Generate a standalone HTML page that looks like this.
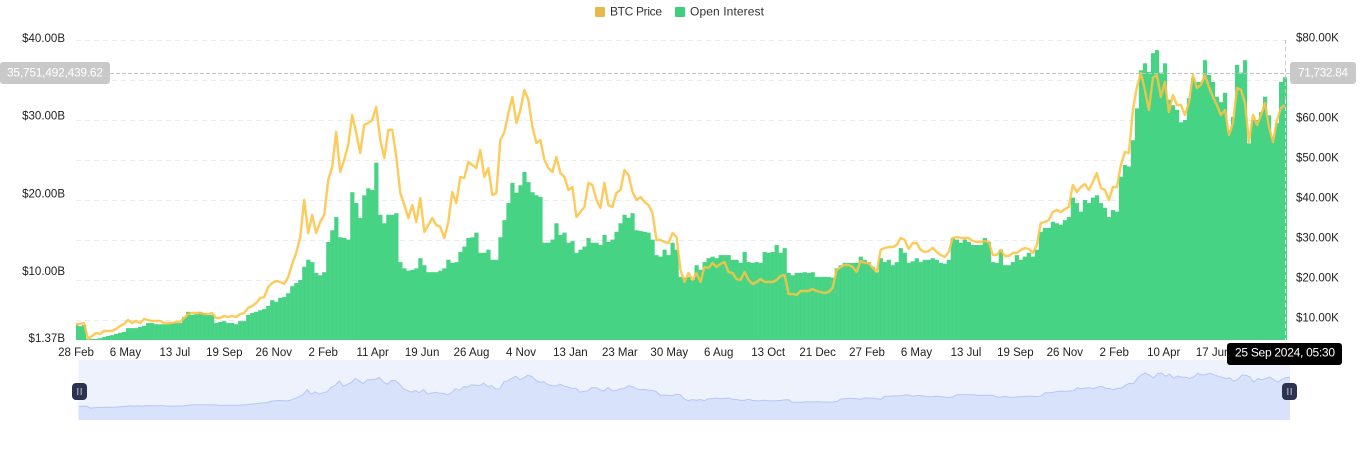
<!DOCTYPE html>
<html lang="en">
<head>
<meta charset="utf-8">
<title>BTC Price and Open Interest</title>
<style>
html,body{margin:0;padding:0;background:#fff;width:1360px;height:450px;overflow:hidden}
svg{display:block;font-family:"Liberation Sans",sans-serif}
</style>
</head>
<body>
<svg id="chart" width="1360" height="450" viewBox="0 0 1360 450" xmlns="http://www.w3.org/2000/svg">
  <defs>
    <clipPath id="plot-clip"><rect x="76" y="30" width="1211" height="310"/></clipPath>
  </defs>
  <g font-size="12" fill="#333" dominant-baseline="middle">
    <g>
      <rect x="595" y="7" width="10" height="10" rx="1" fill="#e8b84a"/>
      <text x="610" y="12.5" textLength="52">BTC Price</text>
    </g>
    <g>
      <rect x="675" y="7" width="10" height="10" rx="1" fill="#3fce7d"/>
      <text x="690" y="12.5" textLength="74">Open Interest</text>
    </g>
  </g>
  <g id="grid"></g>
  <g id="bars" clip-path="url(#plot-clip)"></g>
  <path id="price-line" fill="none" stroke="#fdc345" stroke-opacity="0.88" stroke-width="2.4" stroke-linejoin="round" clip-path="url(#plot-clip)"/>
  <g id="left-axis" font-size="11.5" fill="#222" text-anchor="end" dominant-baseline="middle"></g>
  <g id="right-axis" font-size="11.5" fill="#222" dominant-baseline="middle"></g>
  <g id="x-axis" font-size="11.5" fill="#222" text-anchor="middle" dominant-baseline="middle"></g>
  <g>
    <line x1="110" y1="73.5" x2="1290" y2="73.5" stroke="#c2c2c2" stroke-width="1" stroke-dasharray="4 2"/>
    <line x1="1285.5" y1="40" x2="1285.5" y2="100" stroke="#c8c8c8" stroke-width="1" stroke-dasharray="4 3"/>
    <line x1="1285.5" y1="100" x2="1285.5" y2="340" stroke="#e6f7ee" stroke-width="1" stroke-dasharray="4 3"/>
    <rect x="0" y="62" width="110" height="22" rx="3" fill="#c9c9c9"/>
    <text x="55" y="73.5" font-size="12" fill="#fff" text-anchor="middle" dominant-baseline="middle" textLength="96">35,751,492,439.62</text>
    <rect x="1290" y="62" width="66" height="22" rx="3" fill="#c9c9c9"/>
    <text x="1323" y="73.5" font-size="12" fill="#fff" text-anchor="middle" dominant-baseline="middle" textLength="50">71,732.84</text>
  </g>
  <g>
    <rect x="78.5" y="360" width="1211.5" height="60" fill="#eef2fd"/>
    <path id="mini-area" fill="#d9e2fb"/>
    <path id="mini-line" fill="none" stroke="#b4c7f7" stroke-width="1"/>
    <g>
      <rect x="72" y="383" width="15" height="17" rx="4" fill="#2d3250"/>
      <rect x="77" y="388" width="1.5" height="7" fill="#8d92a8"/>
      <rect x="80.5" y="388" width="1.5" height="7" fill="#8d92a8"/>
    </g>
    <g>
      <rect x="1282" y="383" width="15" height="17" rx="4" fill="#2d3250"/>
      <rect x="1287" y="388" width="1.5" height="7" fill="#8d92a8"/>
      <rect x="1290.5" y="388" width="1.5" height="7" fill="#8d92a8"/>
    </g>
  </g>
  <g>
    <rect x="1227" y="343" width="115" height="22" rx="3" fill="#000"/>
    <text x="1285" y="353.5" font-size="12" fill="#fff" text-anchor="middle" dominant-baseline="middle" textLength="100">25 Sep 2024, 05:30</text>
  </g>
</svg>
<script>
const xTickLabels = ["28 Feb","6 May","13 Jul","19 Sep","26 Nov","2 Feb","11 Apr","19 Jun","26 Aug","4 Nov","13 Jan","23 Mar","30 May","6 Aug","13 Oct","21 Dec","27 Feb","6 May","13 Jul","19 Sep","26 Nov","2 Feb","10 Apr","17 Jun"];
const samplesPerXTick = 12.35;
const leftTickValues = [40,30,20,10,1.37];
const leftTickLabels = ["$40.00B","$30.00B","$20.00B","$10.00B","$1.37B"];
const rightTickValues = [80,60,50,40,30,20,10];
const rightTickLabels = ["$80.00K","$60.00K","$50.00K","$40.00K","$30.00K","$20.00K","$10.00K"];
const gridValues = [80,70,60,50,40,30,20,10];
const priceValues = [
9,9,9.25,5.25,6,6.75,6.5,7.25,7.25,7.25,7.75,8.5,9,10,9.25,9.75,9.25,10.25,10,9.75,9.75,9.75,9.25,9.25,9.25,9.5,9.5,10.5,11.5,11.75,11.75,11.75,11.5,11.5,11.75,10.5,10.5,11,10.75,11,10.75,11.5,11.75,13,13.5,14.25,15.5,15.75,18.25,19.25,
19.75,19.5,19,20.75,24,26.75,30.75,40,31.75,36.25,
31.75,34.5,36.25,45,48.25,57,47,50,53.75,61.25,
56.75,51.75,58.75,59.25,60,63.25,55,50.5,57.5,57.5,
50.75,41.75,38.75,35.5,38.75,34.5,40.5,32,33.75,35.5,
33.75,33.25,30.5,34.5,42,39.25,45.75,45.5,49.5,48.75,
48,52.5,45.75,48,41.25,41.75,55,57,61.75,65.75,
59.25,62.5,67.5,65,58.25,54.25,55,50,48,47,
50.75,46.75,45.75,42.5,43.25,35.75,37,38.25,44.25,43.75,
40,38,44.25,38.75,38.25,41.75,42.5,47.5,46.25,42,
40,40.75,39.5,38.75,36.75,30,30,29.5,29.25,31.75,
30.75,22.5,19.5,21.75,20,21.75,19.5,23.25,23,24.25,
23.25,24,24.5,22,21.75,20.25,20,22,20,19,
19.5,20.25,19.5,19.5,19.5,20,21,21.25,16.5,16.5,
16.25,17.25,17.25,17.25,17.75,17.25,17,16.75,17,18,
22.5,23.25,23.75,23.75,23.25,22,24.75,24.25,24.25,23,
22,27.5,28,28.25,28.25,28.75,30.5,30,27.75,29.25,
29.25,27.5,27,27.25,28,27,26.25,25.75,27,30.5,
30.75,30.5,30.5,30.5,29.75,29.5,29.5,29.75,29.5,26.25,
26.25,27.5,26,26,26.75,26.75,27.5,28,27.75,26.75,
28.75,34.25,34.5,35,37,37.5,37,37.75,38.25,43.75,
42,43.25,44,42.5,44.5,46.75,43,42.5,40,43.25,
43.25,48.75,52,51.75,62.5,68.25,71.75,67.5,62.5,70.5,
71.25,65.75,69.5,62,66.25,63.75,63.75,61.25,64.25,71.25,
68,68.75,71.25,68.25,65.75,63.75,61.25,62.5,56.25,59.25,
68,67.5,64.25,54.5,61.25,58.75,61.25,64.25,58.25,54.5,
60,63,63.75
];
const openInterestValues = [
3.4,3.15,3.3,1.5,1.5,1.5,1.6,1.75,1.9,2,2.15,2.3,2.4,2.9,2.9,2.9,3.05,3.2,3.55,3.55,3.4,3.4,3.4,3.4,3.55,3.55,3.55,4.35,5,4.6,4.7,5,4.85,4.6,4.6,3.55,3.7,3.8,3.55,3.55,3.4,3.8,3.8,4.6,4.85,5,5.2,5.35,5.75,6.5,
6.3,6.8,6.9,7.4,8.3,8.7,9.1,10.8,11.7,11.4,
10,9.7,10.1,14,15.5,17.2,14.6,14.5,14.3,20.4,
19,17.1,20,20.9,20.7,24.2,17.5,16.4,17.5,17.5,
17.7,11.4,10.6,10.3,10.4,10.6,11.9,11,10.1,10.1,
10.1,10.3,10.6,11.7,11.3,11.4,12.7,13.4,14.5,14.6,
15.2,12.6,12.6,13,11.7,11.7,14.6,16.8,19,21.6,
20.3,21.3,23,21.7,20.4,20,19.8,13.9,13.9,14.3,
16.4,14.9,15.2,13.9,14.1,12.6,13,13.4,14.5,13.9,
13.9,13.6,14.9,14,14.3,15.3,16.4,17.5,17.1,17.7,
15.5,15.4,15.3,15.2,14.3,12.3,12.1,13,12.3,13.9,
13,9.5,9.4,9.5,9.1,11,10.4,11.4,11.9,12.1,
11.9,12.3,12.3,12.3,11.7,11.7,11.3,12.7,11.4,11.3,
11.4,11.3,12.7,12.6,12.7,13.6,12.6,13.2,10,9.7,
10,10,10.1,10,10.1,9.5,9.5,9.5,9.5,9.4,
10.6,11,11.3,11.3,11.3,11.3,12.1,11.7,11.4,10.8,
10.1,11.9,11.4,11.7,11,11.4,13.2,12.6,11.3,11.5,
11.9,11.4,11.7,11.7,11.9,11.7,11.3,11.2,11.7,14.5,
14.3,13.9,14.3,14,13.6,13.6,13.6,14.5,14,11.4,
11.3,13,11,11,11.4,12.3,11.7,12.1,12.6,12.1,
13,15.3,15.8,15.8,16.6,16.4,16.2,16.8,17.2,19.7,
19,17.9,19.4,19,19.7,20,19,18.4,17.2,18.1,
17.9,22.4,23.9,23.7,27.1,31.2,36.1,37,35.9,38.3,
38.7,35.8,37,32.3,31.6,31,29.4,29.7,32.5,35.1,
34.6,34.6,37.4,35.5,34.6,32.7,32,33.2,28.4,30.1,
36.8,35.8,37.4,26.7,29.7,29.7,30.7,32.7,30.3,27.5,
29.3,34.6,35.2
];

const SVG_NS = "http://www.w3.org/2000/svg";
const sampleCount = priceValues.length;
const step = 1209 / (sampleCount - 1);
function xScale(i) { return 76 + i * step; }
function yLeft(v) { return 40 + (40 - v) * (300 / 38.63); }
function yRight(v) { return 40 + (80 - v) * 4; }
function xMini(i) { return 78.5 + i * (1211.5 / (sampleCount - 1)); }
function yMini(v) { return 411 - v * 0.53; }

const gridGroup = document.getElementById("grid");
gridValues.forEach(function (v) {
  const line = document.createElementNS(SVG_NS, "line");
  
  
  line.setAttribute("x1", 76);
  line.setAttribute("x2", 1287);
  line.setAttribute("y1", yRight(v) + 0.5);
  line.setAttribute("y2", yRight(v) + 0.5);
  line.setAttribute("stroke", "#ebebeb");
  line.setAttribute("stroke-dasharray", "5 4");
  gridGroup.appendChild(line);
});

const barsGroup = document.getElementById("bars");
openInterestValues.forEach(function (v, i) {
  const bar = document.createElementNS(SVG_NS, "rect");
  
  
  bar.setAttribute("x", xScale(i) - step / 2);
  bar.setAttribute("width", step + (i === openInterestValues.length - 1 ? 2 : 0.2));
  bar.setAttribute("y", yLeft(v));
  bar.setAttribute("height", Math.max(0, 340 - yLeft(v)));
  bar.setAttribute("fill", "#46d384");
  barsGroup.appendChild(bar);
});

document.getElementById("price-line").setAttribute("d", priceValues.map(function (v, i) {
  return (i ? "L" : "M") + xScale(i).toFixed(1) + " " + yRight(v).toFixed(1);
}).join(""));

const miniPath = priceValues.map(function (v, i) {
  return (i ? "L" : "M") + xMini(i).toFixed(1) + " " + yMini(v).toFixed(1);
}).join("");
document.getElementById("mini-line").setAttribute("d", miniPath);
document.getElementById("mini-area").setAttribute("d", miniPath + "L1290 420L78.5 420Z");

const leftAxis = document.getElementById("left-axis");
leftTickValues.forEach(function (v, i) {
  const t = document.createElementNS(SVG_NS, "text");
  
  
  t.setAttribute("x", 65);
  t.setAttribute("y", yLeft(v) - 1);
  t.textContent = leftTickLabels[i];
  leftAxis.appendChild(t);
});

const rightAxis = document.getElementById("right-axis");
rightTickValues.forEach(function (v, i) {
  const t = document.createElementNS(SVG_NS, "text");
  
  
  t.setAttribute("x", 1296);
  t.setAttribute("y", yRight(v) - 1.5);
  t.textContent = rightTickLabels[i];
  rightAxis.appendChild(t);
});

const xAxis = document.getElementById("x-axis");
xTickLabels.forEach(function (label, i) {
  const t = document.createElementNS(SVG_NS, "text");
  
  
  t.setAttribute("x", xScale(i * samplesPerXTick));
  t.setAttribute("y", 353);
  t.textContent = label;
  xAxis.appendChild(t);
});
</script>
</body>
</html>
